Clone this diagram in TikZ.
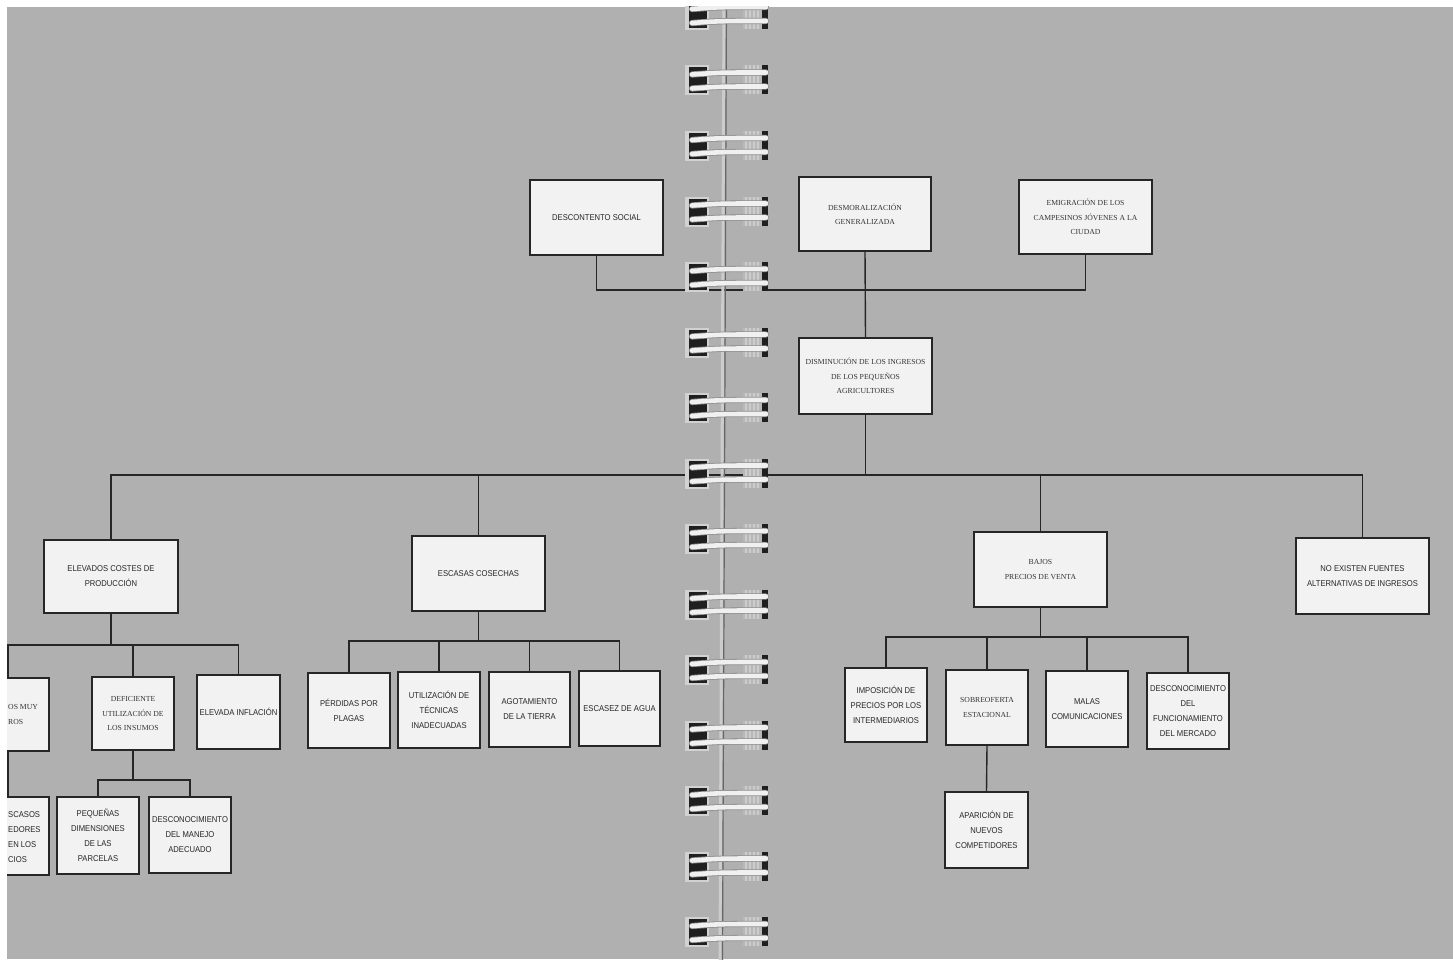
\documentclass[tikz,border=0pt]{standalone}
\usepackage{fontspec}
\newfontfamily\sansf[FakeStretch=0.9]{Liberation Sans}
\newfontfamily\seriff{Liberation Serif}
\definecolor{page}{RGB}{176,176,176}
\definecolor{boxfill}{RGB}{242,242,242}
\definecolor{ink}{RGB}{38,38,38}
\begin{document}
\begin{tikzpicture}[x=1pt,y=-1pt,
  cbox/.style={draw=ink, line width=1.6pt, fill=boxfill, inner sep=0pt, align=center},
  sbox/.style={cbox, font={\sansf\fontsize{8.5}{15}\selectfont}, text=black!85},
  rbox/.style={cbox, font={\seriff\fontsize{7.7}{14.5}\selectfont}, text=black!80},
  link/.style={draw=ink, line width=1.4pt},
  wire/.style={line width=4.6pt, draw=white!94!black, line cap=round},
  wireedge/.style={line width=6.2pt, draw=black!45, line cap=round}
]
\useasboundingbox (0,0) rectangle (1453,963);
\fill[white] (0,0) rectangle (1453,963);
\fill[page] (7,7) rectangle (1453,959);
\begin{scope}
\clip (7,7) rectangle (1453,959);

% ---- effects ----
\node[sbox, minimum width=133, minimum height=75] (eff1) at (596.5,217.5) {DESCONTENTO SOCIAL};
\node[rbox, minimum width=132, minimum height=74] (eff2) at (865,214) {DESMORALIZACIÓN\\GENERALIZADA};
\node[rbox, minimum width=133, minimum height=74] (eff3) at (1085.5,217) {EMIGRACIÓN DE LOS\\CAMPESINOS JÓVENES A LA\\CIUDAD};
% ---- core problem ----
\node[rbox, minimum width=133, minimum height=76] (core) at (865.5,376) {DISMINUCIÓN DE LOS INGRESOS\\DE LOS PEQUEÑOS\\AGRICULTORES};
% ---- first-level causes ----
\node[sbox, minimum width=134, minimum height=73] (c1) at (111,576.5) {ELEVADOS COSTES DE\\PRODUCCIÓN};
\node[sbox, minimum width=133, minimum height=75] (c2) at (478.5,573.5) {ESCASAS COSECHAS};
\node[rbox, minimum width=133, minimum height=75] (c3) at (1040.5,569.5) {BAJOS\\PRECIOS DE VENTA};
\node[sbox, minimum width=133, minimum height=76] (c4) at (1362.5,576) {NO EXISTEN FUENTES\\ALTERNATIVAS DE INGRESOS};
% ---- under c1 ----
\node[cbox, minimum width=82, minimum height=73] (a1) at (8,714.5) {};
\node[anchor=west, inner sep=0pt, font={\seriff\fontsize{7.7}{14.5}\selectfont}, text=black!80] (a1t1) at (8,707) {OS MUY};
\node[anchor=west, inner sep=0pt, font={\seriff\fontsize{7.7}{14.5}\selectfont}, text=black!80] (a1t2) at (8,722) {ROS};
\node[rbox, minimum width=82, minimum height=73] (a2) at (133,713.5) {DEFICIENTE\\UTILIZACIÓN DE\\LOS INSUMOS};
\node[sbox, minimum width=83, minimum height=74] (a3) at (238.5,712) {ELEVADA INFLACIÓN};
\node[cbox, minimum width=82, minimum height=78] (a1a) at (8,836) {};
\node[anchor=west, inner sep=0pt, font={\sansf\fontsize{8.5}{15}\selectfont}, text=black!85] (a1at1) at (8,815) {SCASOS};
\node[anchor=west, inner sep=0pt, font={\sansf\fontsize{8.5}{15}\selectfont}, text=black!85] (a1at2) at (8,830) {EDORES};
\node[anchor=west, inner sep=0pt, font={\sansf\fontsize{8.5}{15}\selectfont}, text=black!85] (a1at3) at (8,845) {EN LOS};
\node[anchor=west, inner sep=0pt, font={\sansf\fontsize{8.5}{15}\selectfont}, text=black!85] (a1at4) at (8,860) {CIOS};
\node[sbox, minimum width=82, minimum height=77] (a2a) at (98,835.5) {PEQUEÑAS\\DIMENSIONES\\DE LAS\\PARCELAS};
\node[sbox, minimum width=82, minimum height=76] (a2b) at (190,835) {DESCONOCIMIENTO\\DEL MANEJO\\ADECUADO};
% ---- under c2 ----
\node[sbox, minimum width=82, minimum height=75] (b1) at (349,710.5) {PÉRDIDAS POR\\PLAGAS};
\node[sbox, minimum width=82, minimum height=76] (b2) at (439,710) {UTILIZACIÓN DE\\TÉCNICAS\\INADECUADAS};
\node[sbox, minimum width=81, minimum height=75] (b3) at (529.5,709.5) {AGOTAMIENTO\\DE LA TIERRA};
\node[sbox, minimum width=81, minimum height=75] (b4) at (619.5,708.5) {ESCASEZ DE AGUA};
% ---- under c3 ----
\node[sbox, minimum width=82, minimum height=74] (d1) at (886,705) {IMPOSICIÓN DE\\PRECIOS POR LOS\\INTERMEDIARIOS};
\node[rbox, minimum width=82, minimum height=75] (d2) at (987,707.5) {SOBREOFERTA\\ESTACIONAL};
\node[sbox, minimum width=82, minimum height=76] (d3) at (1087,709) {MALAS\\COMUNICACIONES};
\node[sbox, minimum width=82, minimum height=76] (d4) at (1188,711) {DESCONOCIMIENTO\\DEL\\FUNCIONAMIENTO\\DEL MERCADO};
\node[sbox, minimum width=83, minimum height=76] (d2a) at (986.5,830) {APARICIÓN DE\\NUEVOS\\COMPETIDORES};

% ---- bus coordinates ----
\coordinate (busE) at (0,290);
\coordinate (busC) at (0,475);
\coordinate (busA) at (0,645);
\coordinate (busAA) at (0,780);
\coordinate (busB) at (0,641);
\coordinate (busD) at (0,637);

% ---- connectors ----
\draw[link] (eff1.south) |- (eff3.south |- busE) -- (eff3.south);
\draw[link] (eff2.south) -- (core.north);
\draw[link] (core.south) -- (core.south |- busC);
\draw[link] (c1.north) |- (c4.north |- busC) -- (c4.north);
\draw[link] (c2.north) -- (c2.north |- busC);
\draw[link] (c3.north) -- (c3.north |- busC);
% c1
\draw[link] (c1.south) -- (c1.south |- busA);
\draw[link] (a1.north) |- (a3.north |- busA) -- (a3.north);
\draw[link] (a2.north) -- (a2.north |- busA);
\draw[link] (a1.south) -- (a1a.north);
\draw[link] (a2.south) -- (a2.south |- busAA);
\draw[link] (a2a.north) |- (a2b.north |- busAA) -- (a2b.north);
% c2
\draw[link] (c2.south) -- (c2.south |- busB);
\draw[link] (b1.north) |- (b4.north |- busB) -- (b4.north);
\draw[link] (b2.north) -- (b2.north |- busB);
\draw[link] (b3.north) -- (b3.north |- busB);
% c3
\draw[link] (c3.south) -- (c3.south |- busD);
\draw[link] (d1.north) |- (d4.north |- busD) -- (d4.north);
\draw[link] (d2.north) -- (d2.north |- busD);
\draw[link] (d3.north) -- (d3.north |- busD);
\draw[link] (d2.south) -- (d2a.north);

% ---- gutter and spiral binding ----
\draw[white!80!black, line width=3pt] (724,0) -- (720,963);
\draw[black!60, line width=1.2pt] (726.5,0) -- (722.5,963);
\foreach \i in {0,...,14} {
  \pgfmathsetmacro\cy{15+65.5*\i}
  % left hole
  \fill[white!82!black] (685,\cy-15) rectangle (709,\cy+15);
  \fill[black!88] (689,\cy-13) rectangle (707,\cy+13);
  % right hole
  \fill[black!28] (743,\cy-15) rectangle (768,\cy+14);
  \foreach \xx in {746,750,754,758} {
    \draw[white!80!black, line width=1.4pt] (\xx,\cy-15) -- (\xx,\cy+14);
  }
  \fill[black!88] (762,\cy-15) rectangle (768,\cy+14);
  % wire loops
  \draw[wireedge] (692,\cy-6) .. controls (720,\cy-8) .. (766,\cy-8);
  \draw[wire] (692,\cy-6) .. controls (720,\cy-8) .. (766,\cy-8);
  \draw[wireedge] (692,\cy+8) .. controls (720,\cy+6) .. (766,\cy+6);
  \draw[wire] (692,\cy+8) .. controls (720,\cy+6) .. (766,\cy+6);
}
\end{scope}
\end{tikzpicture}
\end{document}
